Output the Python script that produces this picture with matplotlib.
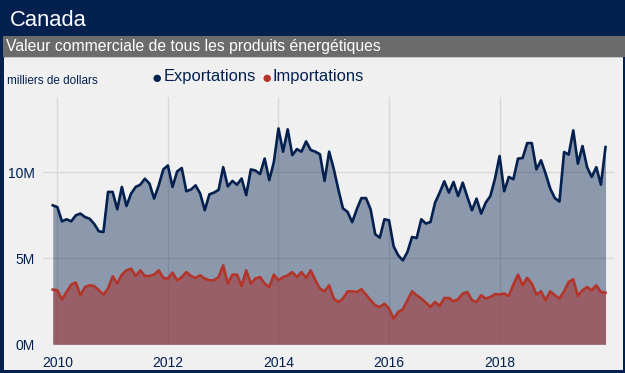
import numpy as np
import matplotlib
matplotlib.use("Agg")
import matplotlib.pyplot as plt
from matplotlib.patches import Rectangle

plt.rcParams['font.family'] = ['Liberation Sans', 'DejaVu Sans']

# monthly values, Dec 2009 .. Dec 2019 (millions of thousands of dollars)
exports = [8.08, 7.98, 7.15, 7.27, 7.15, 7.5, 7.6, 7.4, 7.3, 7.0,
           6.57, 6.53, 8.86, 8.86, 7.85, 9.15, 8.04, 8.76, 9.15, 9.28,
           9.63, 9.34, 8.47, 9.24, 10.17, 10.4, 9.15, 10.05, 10.25, 8.9,
           9.0, 9.24, 8.77, 7.8, 8.72, 8.82, 8.98, 10.3, 9.18, 9.5,
           9.28, 9.64, 8.67, 10.17, 10.1, 9.9, 10.8, 9.55, 10.6, 12.55,
           11.2, 12.5, 11.0, 11.35, 11.2, 11.8, 11.3, 11.2, 11.05, 9.5,
           11.2, 10.2, 9.0, 7.9, 7.7, 7.1, 7.85, 8.5, 8.5, 7.85,
           6.4, 6.2, 7.27, 7.21, 5.7, 5.17, 4.88, 5.37, 6.24, 6.18,
           7.27, 7.02, 7.11, 8.24, 8.82, 9.48, 8.82, 9.44, 8.62, 9.4,
           8.57, 7.79, 8.47, 7.6, 8.24, 8.62, 9.63, 10.95, 8.9, 9.73,
           9.6, 10.8, 10.83, 11.7, 11.7, 10.17, 10.7, 9.92, 9.05, 8.5,
           8.3, 11.18, 11.03, 12.44, 10.5, 11.53, 10.3, 9.73, 10.3, 9.28,
           11.47]
imports = [3.18, 3.14, 2.6, 3.04, 3.47, 3.59, 2.85, 3.33, 3.43, 3.39,
           3.14, 2.89, 3.24, 3.95, 3.53, 4.05, 4.3, 4.4, 3.97, 4.3,
           3.97, 3.97, 4.05, 4.3, 3.86, 3.82, 4.17, 3.72, 3.91, 4.2,
           3.97, 3.86, 4.01, 3.82, 3.72, 3.72, 3.91, 4.59, 3.53, 4.05,
           4.05, 3.39, 4.3, 3.53, 3.82, 3.91, 3.53, 3.33, 4.05, 3.72,
           3.91, 4.01, 4.2, 3.91, 4.2, 3.86, 4.3, 3.72, 3.24, 3.08,
           3.43, 2.66, 2.46, 2.66, 3.08, 3.08, 3.04, 3.2, 2.89, 2.56,
           2.27, 2.17, 2.36, 2.07, 1.49, 1.88, 2.03, 2.56, 3.08, 2.85,
           2.66, 2.42, 2.17, 2.46, 2.23, 2.69, 2.69, 2.5, 2.62, 2.95,
           3.04, 2.56, 2.46, 2.85, 2.66, 2.75, 2.91, 2.9, 2.95, 2.81,
           3.47, 4.05, 3.43, 3.86, 3.53, 2.89, 3.08, 2.56, 3.08, 2.85,
           2.66, 3.08, 3.62, 3.78, 2.81, 3.14, 3.33, 3.14, 3.43, 3.04,
           3.0]
years = [2010, 2012, 2014, 2016, 2018]
ytick_vals = [0, 5, 10]
ytick_labels = ['0M', '5M', '10M']

navy = '#03204f'
red = '#b3352a'
W, H = 625, 373

x = 2010 + (np.arange(len(exports)) - 1) / 12.0

fig = plt.figure(figsize=(W / 100, H / 100), dpi=100, facecolor=navy)

def px_rect(x0, y0, x1, y1, color):
    # pixel coords from top-left
    fig.patches.append(Rectangle((x0 / W, 1 - y1 / H), (x1 - x0) / W, (y1 - y0) / H,
                                 transform=fig.transFigure, facecolor=color,
                                 edgecolor='none', zorder=-5))

px_rect(3, 36, W, 57, '#6b6b6b')
px_rect(4, 57, 623, 58, '#c4c4c4')
px_rect(4, 58, 623, 370, '#f0f0f0')

fig.text(10 / W, 1 - 20 / H, 'Canada', color='white', fontsize=15.8, va='center', ha='left')
fig.text(6 / W, 1 - 47 / H, 'Valeur commerciale de tous les produits énergétiques',
         color='white', fontsize=11.3, va='center', ha='left')
fig.text(7 / W, 1 - 81 / H, 'milliers de dollars', color=navy, fontsize=8.5,
         va='center', ha='left')

# legend
fig.text(156.5 / W, 1 - 78 / H, '●', color=navy, fontsize=12.5, va='center', ha='center')
fig.text(164 / W, 1 - 77 / H, 'Exportations', color=navy, fontsize=11.9, va='center', ha='left')
fig.text(266.5 / W, 1 - 78 / H, '●', color=red, fontsize=12.5, va='center', ha='center')
fig.text(273 / W, 1 - 77 / H, 'Importations', color=navy, fontsize=11.9, va='center', ha='left')

ax = fig.add_axes([43 / W, 1 - 344.3 / H, (614 - 43) / W, (344.3 - 97) / H], zorder=2)
ax.set_facecolor('none')
ax.fill_between(x, 0, exports, color=navy, alpha=0.42, linewidth=0, zorder=2)
ax.fill_between(x, 0, imports, color='#a42727', alpha=0.5, linewidth=0, zorder=3)
ax.plot(x, exports, color=navy, linewidth=1.9, zorder=4, solid_joinstyle='round')
ax.plot(x, imports, color=red, linewidth=1.9, zorder=4, solid_joinstyle='round')

ax.set_xlim(2009.74, 2020.07)
ax.set_ylim(0, 14.38)
ax.set_xticks(years)
ax.set_xticklabels([str(y) for y in years])
ax.set_yticks(ytick_vals)
ax.set_yticklabels(ytick_labels)
ax.grid(True, color='#d8d8d8', linewidth=1, zorder=1)
ax.set_axisbelow(True)
for s in ax.spines.values():
    s.set_visible(False)
ax.tick_params(length=0, colors=navy, labelsize=10)
ax.tick_params(axis='x', pad=8.5)
ax.tick_params(axis='y', pad=6)

fig.savefig('out.png', dpi=100, facecolor=navy)
